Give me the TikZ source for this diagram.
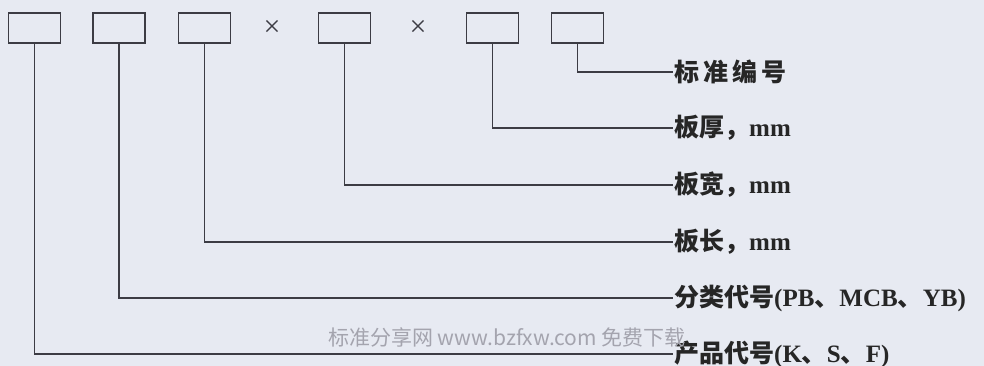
\documentclass[tikz,border=0pt]{standalone}
\usepackage{fontspec}
\setmainfont{Liberation Serif}
\newfontfamily\cjk{Noto Sans CJK SC}
\definecolor{bgcol}{HTML}{E7EAF2}
\definecolor{linecol}{HTML}{3C3C44}
\definecolor{wmcol}{HTML}{A4A4AE}
\tikzset{
  codebox/.style={draw=linecol, line width=1.6pt, minimum width=52pt, minimum height=30pt, inner sep=0pt},
  times/.style={text=linecol, inner sep=0pt, font=\fontsize{30}{30}\selectfont},
  lbl/.style={anchor=west, inner sep=1pt, text=black!85, font=\fontsize{25}{27}\selectfont\bfseries},
  lead/.style={draw=linecol, line width=1.6pt},
}
\begin{document}
\begin{tikzpicture}[x=1pt,y=-1pt]
	\fill[bgcol] (0,0) rectangle (984,366);
	\useasboundingbox (0,0) rectangle (984,366);
	% code fields
	\node[codebox] (b1) at (34.5,28) {};
	\node[codebox] (b2) at (119,28) {};
	\node[codebox] (b3) at (204.5,28) {};
	\node[times] (x1) at (272,28) {×};
	\node[codebox] (b4) at (344.5,28) {};
	\node[times] (x2) at (418,28) {×};
	\node[codebox] (b5) at (492.5,28) {};
	\node[codebox] (b6) at (577.5,28) {};
	% labels
	\node[lbl] (l6) at (673,72) {\cjk 标\,准\,编\,号};
	\node[lbl] (l5) at (673,128) {{\cjk 板厚，}mm};
	\node[lbl] (l4) at (673,185) {{\cjk 板宽，}mm};
	\node[lbl] (l3) at (673,242) {{\cjk 板长，}mm};
	\node[lbl] (l2) at (673,298) {{\cjk 分类代号}(PB{\cjk 、}MCB{\cjk 、}YB)};
	\node[lbl] (l1) at (673,354) {{\cjk 产品代号}(K{\cjk 、}S{\cjk 、}F)};
	% leaders
	\draw[lead] (b6.south) |- (l6.west);
	\draw[lead] (b5.south) |- (l5.west);
	\draw[lead] (b4.south) |- (l4.west);
	\draw[lead] (b3.south) |- (l3.west);
	\draw[lead] (b2.south) |- (l2.west);
	\draw[lead] (b1.south) |- (l1.west);
	\node[text=wmcol, font=\cjk\fontsize{21}{22}\selectfont] (wm) at (507,337) {标准分享网 www.bzfxw.com 免费下载};
\end{tikzpicture}
\end{document}
